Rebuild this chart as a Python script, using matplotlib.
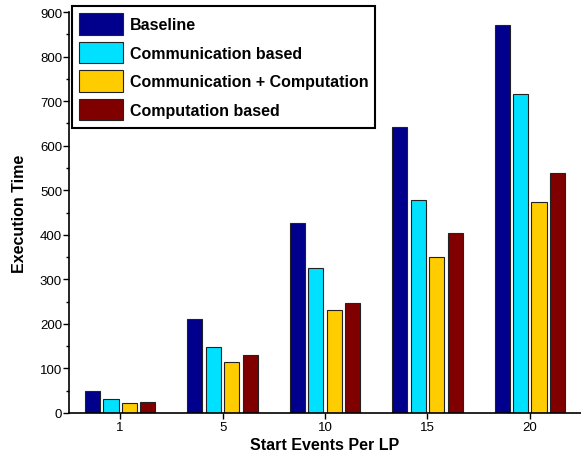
import matplotlib
matplotlib.use("Agg")
import matplotlib.pyplot as plt
import numpy as np
from matplotlib.ticker import MultipleLocator

plt.rcParams['font.family'] = ['Liberation Sans', 'DejaVu Sans']

categories = ["1", "5", "10", "15", "20"]
series_names = ["Baseline", "Communication based", "Communication + Computation", "Computation based"]
baseline = [49, 210, 427, 643, 870]
comm = [31, 149, 326, 477, 716]
comm_comp = [22, 115, 231, 350, 474]
comp = [25, 130, 247, 405, 538]
colors = ['#00008C', '#00E1FF', '#FFCC00', '#800000']

fig = plt.figure(figsize=(5.81, 4.60), dpi=100)
ax = fig.add_axes([69/581, 46/460, 1 - 69/581, (414-13)/460])

x = np.arange(len(categories))
step = 0.18
width = 0.147
all_series = [baseline, comm, comm_comp, comp]
for i, (vals, name, c) in enumerate(zip(all_series, series_names, colors)):
    ax.bar(x + (i - 1.5) * step, vals, width, color=c, edgecolor='#222222',
           linewidth=0.8, label=name)

ax.set_xlim(-0.5, 4.5)
ax.set_ylim(0, 900)
ax.set_xticks(x)
ax.set_xticklabels(categories)
ax.yaxis.set_major_locator(MultipleLocator(100))
ax.yaxis.set_minor_locator(MultipleLocator(50))
ax.spines['top'].set_visible(False)
ax.spines['right'].set_visible(False)
ax.spines['left'].set_linewidth(1.2)
ax.spines['bottom'].set_linewidth(1.2)
ax.tick_params(axis='both', direction='out', labelsize=9.5, width=1.0, length=4, pad=2)
ax.tick_params(axis='y', which='major', pad=1)
ax.tick_params(axis='y', which='minor', direction='out', width=1.0, length=2.5)
ax.set_xlabel("Start Events Per LP", fontsize=11.5, fontweight='bold', labelpad=3)
ax.set_ylabel("Execution Time", fontsize=11.5, fontweight='bold', labelpad=9)

leg = ax.legend(loc='upper left', bbox_to_anchor=(72/581, 1 - 7/460),
                bbox_transform=fig.transFigure, borderaxespad=0,
                prop={'weight': 'bold', 'size': 11.5},
                handlelength=2.75, handleheight=1.72, labelspacing=0.42,
                handletextpad=0.4, borderpad=0.45, fancybox=False,
                framealpha=1, edgecolor='black')
leg.get_frame().set_linewidth(1.5)

fig.savefig("out.png", dpi=100)
